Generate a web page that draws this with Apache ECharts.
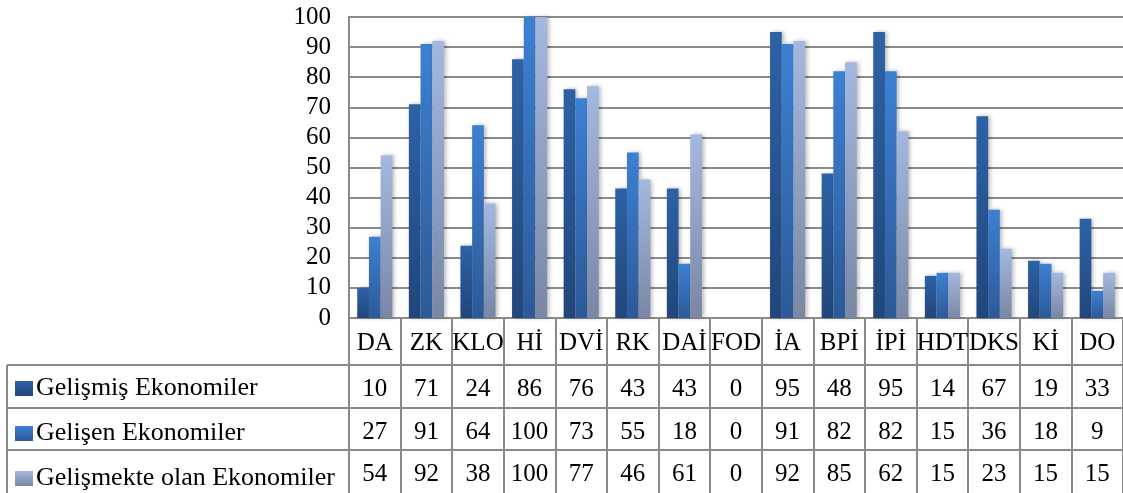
<!DOCTYPE html>
<html>
<head>
<meta charset="utf-8">
<style>
  html, body { margin: 0; padding: 0; background: #ffffff; }
  #chart { width: 1123px; height: 493px; }
</style>
<script src="https://cdn.jsdelivr.net/npm/echarts@6/dist/echarts.min.js"></script>
</head>
<body>
<div id="chart"></div>
<script>
// Categories and the three economy groups
const categories = ['DA', 'ZK', 'KLO', 'Hİ', 'DVİ', 'RK', 'DAİ', 'FOD', 'İA', 'BPİ', 'İPİ', 'HDT', 'DKS', 'Kİ', 'DO'];
const seriesNames = ['Gelişmiş Ekonomiler', 'Gelişen Ekonomiler', 'Gelişmekte olan Ekonomiler'];
const gelismis = [10, 71, 24, 86, 76, 43, 43, 0, 95, 48, 95, 14, 67, 19, 33];
const gelisen = [27, 91, 64, 100, 73, 55, 18, 0, 91, 82, 82, 15, 36, 18, 9];
const gelismekte = [54, 92, 38, 100, 77, 46, 61, 0, 92, 85, 62, 15, 23, 15, 15];
const yTicks = [0, 10, 20, 30, 40, 50, 60, 70, 80, 90, 100];

const values = [gelismis, gelisen, gelismekte];
const FONT = '"Liberation Serif", "Times New Roman", serif';
const FS = 25;
const GRID_LEFT = 349, GRID_TOP = 17, GRID_BOTTOM_Y = 318;
const ROW_OFFSETS = [47, 90, 132];
const ROW_H = 43;
const LINE = '#8a8a8a';

// vertical gradients, lighter at the top of each bar
const fills = [
  ['#2d62a6', '#22467a'],
  ['#3d80d3', '#2c5a98'],
  ['#a4b8e0', '#7987a4']
];
function grad(c) {
  return new echarts.graphic.LinearGradient(0, 0, 0, 1, [
    { offset: 0, color: c[0] }, { offset: 1, color: c[1] }
  ]);
}

const chart = echarts.init(document.getElementById('chart'), null, { renderer: 'canvas' });

// header axis (category names) plus one axis per data-table row
const xAxes = [{
  type: 'category',
  data: categories,
  position: 'bottom',
  axisLine: { show: true, lineStyle: { color: LINE, width: 2 } },
  axisTick: { show: true, alignWithLabel: false, inside: false, length: 47, lineStyle: { color: LINE, width: 2 } },
  axisLabel: { interval: 0, hideOverlap: false, color: '#000', fontFamily: FONT, fontSize: FS, margin: 13 }
}];
values.forEach((row, i) => {
  xAxes.push({
    type: 'category',
    data: row.map(String),
    position: 'bottom',
    offset: ROW_OFFSETS[i],
    axisLine: { show: true, lineStyle: { color: LINE, width: 2 } },
    axisTick: { show: true, alignWithLabel: false, length: ROW_H, lineStyle: { color: LINE, width: 2 } },
    axisLabel: { interval: 0, hideOverlap: false, color: '#000', fontFamily: FONT, fontSize: FS, margin: 12 }
  });
});

const graphic = [];
// left column of the data table (series names)
ROW_OFFSETS.forEach(off => {
  graphic.push({ type: 'line', shape: { x1: 7, y1: GRID_BOTTOM_Y + off, x2: GRID_LEFT, y2: GRID_BOTTOM_Y + off },
    style: { stroke: LINE, lineWidth: 2 } });
});
graphic.push({ type: 'line', shape: { x1: 7, y1: GRID_BOTTOM_Y + ROW_OFFSETS[0], x2: 7, y2: 493 },
  style: { stroke: LINE, lineWidth: 2 } });
graphic.push({ type: 'line', shape: { x1: GRID_LEFT, y1: GRID_BOTTOM_Y, x2: GRID_LEFT, y2: 493 },
  style: { stroke: LINE, lineWidth: 2 } });

chart.setOption({
  animation: false,
  backgroundColor: '#ffffff',
  grid: { left: GRID_LEFT, right: 0, top: GRID_TOP, bottom: 493 - GRID_BOTTOM_Y, containLabel: false },
  legend: {
    orient: 'vertical',
    left: 15,
    top: 375,
    itemWidth: 18,
    itemHeight: 15,
    itemGap: 18,
    icon: 'rect',
    padding: 0,
    textStyle: { color: '#000', fontFamily: FONT, fontSize: FS + 1, lineHeight: 25, padding: [2, 0, 0, -2] },
    data: seriesNames
  },
  xAxis: xAxes,
  yAxis: {
    type: 'value',
    min: yTicks[0],
    max: yTicks[yTicks.length - 1],
    interval: 10,
    axisLine: { show: true, lineStyle: { color: LINE, width: 2 } },
    axisTick: { show: false },
    splitLine: { show: true, lineStyle: { color: LINE, width: 2 } },
    axisLabel: { color: '#000', fontFamily: FONT, fontSize: FS, margin: 18 }
  },
  graphic: graphic,
  series: values.map((row, i) => ({
    name: seriesNames[i],
    type: 'bar',
    xAxisIndex: 0,
    data: row,
    barGap: '0%',
    barCategoryGap: '32%',
    itemStyle: {
      color: grad(fills[i]),
      shadowColor: 'rgba(0,0,0,0.28)',
      shadowBlur: 4,
      shadowOffsetX: 2,
      shadowOffsetY: 0
    }
  }))
});
</script>
</body>
</html>
